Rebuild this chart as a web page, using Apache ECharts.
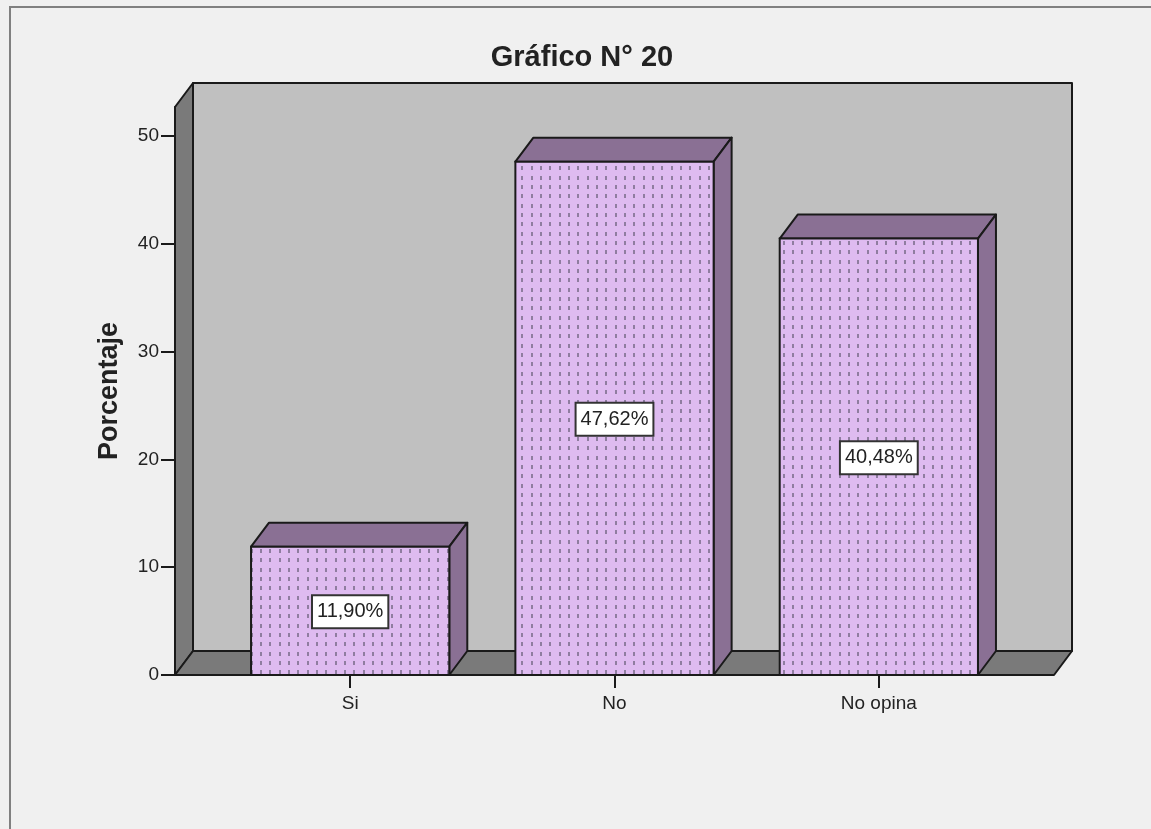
<!DOCTYPE html>
<html>
<head>
<meta charset="utf-8">
<style>
  html, body { margin: 0; padding: 0; background: #f0f0f0; }
  #grafico { width: 1151px; height: 829px; }
</style>
</head>
<body>
<div id="grafico"></div>
<script src="https://cdn.jsdelivr.net/npm/echarts@6/dist/echarts.min.js"></script>
<script>
const categorias = ['Si', 'No', 'No opina'];
const porcentajes = [11.90, 47.62, 40.48];
const etiquetas = ['11,90%', '47,62%', '40,48%'];
const ticksY = [0, 10, 20, 30, 40, 50];

const FONT = '"Liberation Sans", Arial, sans-serif';
const LINEA = '#1a1a1a';
const TEXTO = '#222';
const MORADO_CARA = '#debbf0';
const MORADO_LADO = '#8a7094';
const PARED = '#7a7a7a';
const FONDO = '#c0c0c0';

// profundidad del efecto 3D
const DX = 18;
const DY = 24;
const EXTRA = 43; // lo que sobresale el suelo a cada lado de las categorias
const ANCHO_BARRA = 0.75;

// trama de puntos de la cara frontal
const trama = document.createElement('canvas');
trama.width = 28;
trama.height = 28;
const ctx = trama.getContext('2d');
ctx.fillStyle = MORADO_CARA;
ctx.fillRect(0, 0, 28, 28);
ctx.fillStyle = '#8f7da0';
[8, 17, 27].forEach((x) => {
  [-2, 8, 17, 26].forEach((y) => {
    ctx.fillRect(x, y, 2, 4);
    if (x === 27) ctx.fillRect(-1, y, 2, 4);
  });
});

const poly = (points, fill) => ({
  type: 'polygon',
  shape: { points },
  style: { fill, stroke: LINEA, lineWidth: 2, lineJoin: 'round' }
});

// caja de fondo: pared izquierda, pared trasera y suelo
const dibujarCaja = (params) => {
  const g = params.coordSys;
  const x0 = g.x - EXTRA;
  const x1 = g.x + g.width + EXTRA;
  const y0 = g.y;
  const y1 = g.y + g.height;
  return {
    type: 'group',
    children: [
      poly([[x0 + DX, y0 - DY], [x1 + DX, y0 - DY], [x1 + DX, y1 - DY], [x0 + DX, y1 - DY]], FONDO),
      poly([[x0, y0], [x0 + DX, y0 - DY], [x0 + DX, y1 - DY], [x0, y1]], PARED),
      poly([[x0, y1], [x0 + DX, y1 - DY], [x1 + DX, y1 - DY], [x1, y1]], PARED)
    ]
  };
};

const dibujarBarra = (params, api) => {
  const i = api.value(0);
  const valor = api.value(1);
  const arriba = api.coord([i, valor]);
  const base = api.coord([i, 0]);
  const ancho = api.size([1, 0])[0] * ANCHO_BARRA;
  const xa = arriba[0] - ancho / 2;
  const xb = arriba[0] + ancho / 2;
  const medio = api.coord([i, valor / 2]);
  return {
    type: 'group',
    children: [
      poly([[xa, arriba[1]], [xa + DX, arriba[1] - DY], [xb + DX, arriba[1] - DY], [xb, arriba[1]]], MORADO_LADO),
      poly([[xb, arriba[1]], [xb + DX, arriba[1] - DY], [xb + DX, base[1] - DY], [xb, base[1]]], MORADO_LADO),
      {
        type: 'rect',
        shape: { x: xa, y: arriba[1], width: ancho, height: base[1] - arriba[1] },
        style: {
          fill: { image: trama, repeat: 'repeat' },
          stroke: LINEA,
          lineWidth: 2
        }
      },
      {
        type: 'text',
        x: arriba[0],
        y: medio[1] + 1,
        style: {
          text: etiquetas[params.dataIndex],
          font: '20px ' + FONT,
          fill: TEXTO,
          align: 'center',
          verticalAlign: 'middle',
          backgroundColor: '#fff',
          borderColor: '#333',
          borderWidth: 2,
          padding: [6, 4, 5, 4]
        }
      }
    ]
  };
};

const grafico = echarts.init(document.getElementById('grafico'));
grafico.setOption({
  animation: false,
  backgroundColor: '#f0f0f0',
  title: {
    text: 'Gráfico N° 20',
    left: 577,
    top: 38,
    textAlign: 'center',
    textStyle: { fontFamily: FONT, fontSize: 29, fontWeight: 'bold', color: TEXTO }
  },
  grid: { left: 218, top: 107, width: 793, height: 568 },
  xAxis: {
    type: 'category',
    data: categorias,
    axisLine: { show: true, lineStyle: { color: LINEA, width: 2 } },
    axisTick: { show: true, alignWithLabel: true, length: 13, lineStyle: { color: LINEA, width: 2 } },
    axisLabel: { fontFamily: FONT, fontSize: 19, color: TEXTO, margin: 19 }
  },
  yAxis: {
    type: 'value',
    min: 0,
    max: 52.69,
    offset: EXTRA,
    name: 'Porcentaje',
    nameLocation: 'middle',
    nameGap: 52,
    nameTextStyle: { fontFamily: FONT, fontSize: 27, fontWeight: 'bold', color: TEXTO },
    splitLine: { show: false },
    axisLine: { show: true, lineStyle: { color: LINEA, width: 2 } },
    axisTick: { show: true, length: 14, customValues: ticksY, lineStyle: { color: LINEA, width: 2 } },
    axisLabel: { fontFamily: FONT, fontSize: 19, color: TEXTO, margin: 16, padding: [6, 0, 0, 0], customValues: ticksY }
  },
  series: [
    {
      type: 'custom',
      silent: true,
      z: 1,
      renderItem: dibujarCaja,
      data: [[0, 0]]
    },
    {
      type: 'custom',
      z: 3,
      renderItem: dibujarBarra,
      encode: { x: 0, y: 1 },
      data: porcentajes.map((v, i) => [i, v])
    }
  ],
  // marco gris de la ventana
  graphic: [
    { type: 'line', silent: true, shape: { x1: 9, y1: 7, x2: 1151, y2: 7 }, style: { stroke: '#808080', lineWidth: 2 } },
    { type: 'line', silent: true, shape: { x1: 10, y1: 6, x2: 10, y2: 829 }, style: { stroke: '#808080', lineWidth: 2 } }
  ]
});
</script>
</body>
</html>
